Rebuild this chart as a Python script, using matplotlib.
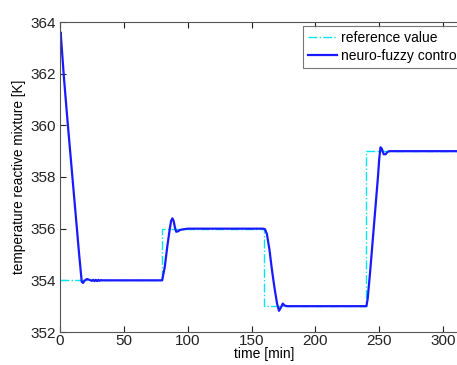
import matplotlib
matplotlib.use("Agg")
import matplotlib.pyplot as plt
import numpy as np

# reference set-point (step signal)
ref_t = [0, 80, 80, 160, 160, 240, 240, 330]
ref_v = [354, 354, 356, 356, 353, 353, 359, 359]

# neuro-fuzzy controlled temperature
ctl_t = [0, 0.5, 3, 6, 9, 12, 15, 17, 18, 19.5, 21, 23, 25, 26, 27, 28, 29, 30, 31, 32, 33, 35, 80,
         82, 84, 86, 87, 88, 89, 90, 91, 92.5, 94, 96, 100, 159, 160.5, 162, 164, 166, 168, 170,
         171.5, 173, 174.5, 176, 178, 200, 240, 241, 243, 245, 247, 249, 250, 251, 252, 253.5,
         255, 256.5, 258, 260, 330]
ctl_v = [363.5, 363.6, 361.9, 360.1, 358.4, 356.7, 355.0, 353.95, 353.9, 354.0, 354.05, 354.02,
         353.98, 354.02, 353.97, 354.02, 353.97, 354.02, 353.98, 354.01, 354.0, 354.0, 354.0,
         354.5, 355.3, 356.0, 356.3, 356.4, 356.3, 356.05, 355.88, 355.9, 355.95, 355.97, 356.0,
         356.0, 355.98, 355.8, 355.2, 354.4, 353.7, 353.1, 352.82, 352.95, 353.1, 353.02,
         353.0, 353.0, 353.0, 353.3, 354.4, 355.6, 356.8, 358.0, 358.7, 359.15, 359.1, 358.88,
         358.88, 358.97, 359.0, 359.0, 359.0]

x_ticks = [0, 50, 100, 150, 200, 250, 300]
y_ticks = [352, 354, 356, 358, 360, 362, 364]

plt.rcParams['font.family'] = ['Liberation Sans', 'DejaVu Sans']

fig = plt.figure(figsize=(4.57, 3.65), dpi=100)
ax = fig.add_axes([60/457, 33/365, 408.6/457, 310/365])

ax.plot(ref_t, ref_v, color='#00e5ee', linestyle='-.', linewidth=1.0, label='reference value')
ax.plot(ctl_t, ctl_v, color='#1a1aff', linestyle='-', linewidth=1.6, label='neuro-fuzzy control')

ax.set_xlim(0, 320)
ax.set_ylim(352, 364)
ax.set_xticks(x_ticks)
ax.set_yticks(y_ticks)
ax.tick_params(direction='in', length=4, width=0.8, top=True, right=True,
               labelsize=11, colors='#222222')
ax.tick_params(axis='x', pad=1.5)
ax.tick_params(axis='y', pad=3)
for s in ax.spines.values():
    s.set_color('#555555')
    s.set_linewidth(0.8)

ax.set_xlabel('time [min]', fontsize=10, labelpad=-0.5)
ax.set_ylabel('temperature reactive mixture [K]', fontsize=9.8, labelpad=3)

leg = ax.legend(loc='upper left', bbox_to_anchor=(303/457, 1 - 26/365),
                bbox_transform=fig.transFigure, fontsize=10, frameon=True,
                fancybox=False, borderaxespad=0, handlelength=2.1, handletextpad=0.3,
                borderpad=0.35, labelspacing=0.3)
leg.get_frame().set_edgecolor('#555555')
leg.get_frame().set_linewidth(0.8)

fig.savefig('out.png', dpi=100)
